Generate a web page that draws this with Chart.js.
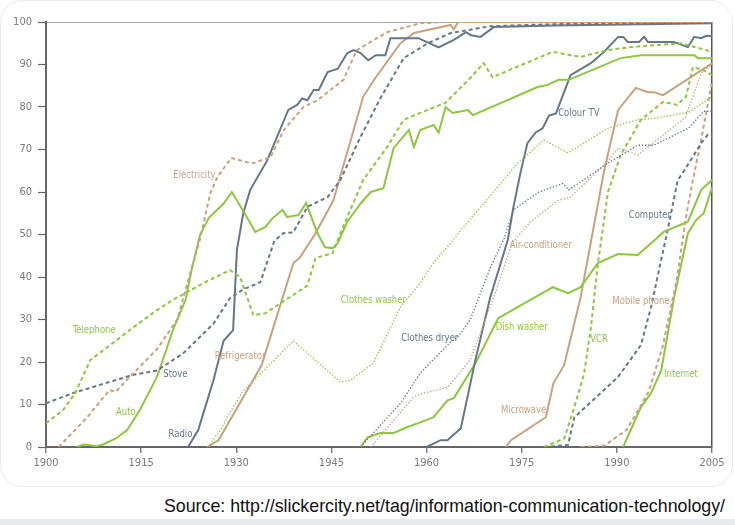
<!DOCTYPE html>
<html>
<head>
<meta charset="utf-8">
<title>Consumption spreads faster today</title>
<script src="https://cdn.jsdelivr.net/npm/chart.js@4.4.0/dist/chart.umd.min.js"></script>
<style>
  html, body { margin: 0; padding: 0; background: #fff; }
  body { width: 735px; height: 525px; position: relative; overflow: hidden; }
  #frame { position: absolute; left: 0; top: 0; width: 731px; height: 485px; border: 1px solid #ececec; border-radius: 22px; }
  #wrap { position: absolute; left: 0; top: 0; width: 735px; height: 490px; }
  #band { position: absolute; left: 0; top: 519px; width: 735px; height: 6px; background: #e8eaed; }
  #source { position: absolute; z-index: 2; right: 10px; top: 496px; font-family: 'Liberation Sans', Arial, sans-serif; font-size: 17.8px; line-height: 20px; color: #111; white-space: nowrap; }
</style>
</head>
<body>
<div id="frame"></div>
<div id="wrap"><canvas id="adoptionChart"></canvas></div>
<div id="band"></div>
<div id="source">Source: http://slickercity.net/tag/information-communication-technology/</div>
<script>
// [year, % of US households]
const electricity = [[1902,0],[1906.5,7],[1910,13.4],[1911,13],[1913.8,17.4],[1917.5,23],[1920.7,30],[1922,37],[1924.3,49],[1925.9,59.7],[1927,63.5],[1929.2,68],[1931.7,67],[1932.7,66.8],[1935.4,68.2],[1937.5,74.6],[1940.6,80],[1942.8,81.6],[1946.9,86.4],[1949,93.4],[1953.8,97.6],[1959,99.7],[1963,100],[2005,100]];
const telephone = [[1900,5.6],[1902.7,8.7],[1904.6,12.7],[1907,20.5],[1911.2,25.2],[1913.8,28.2],[1917.5,32.2],[1920,34.6],[1922.3,36.5],[1925.4,39],[1929,41.6],[1930.6,40],[1932.7,31],[1934.6,31.5],[1938.5,35.3],[1941.2,38],[1942.5,44.5],[1945.2,45.6],[1946.4,50.3],[1950,62.8],[1953.8,70.6],[1956.4,77],[1959,78.6],[1963,81],[1967,87],[1969,90.3],[1970.4,87],[1979.9,93],[1984.3,91.8],[1988.6,93.4],[1992.2,94.1],[2000.1,95],[2005,93]];
const stove = [[1900,10.3],[1904.3,12.7],[1910,15.3],[1913.8,17],[1917.5,18],[1921.6,22],[1926.4,29],[1929,35],[1931,37],[1933.8,38.8],[1936,48.5],[1937.4,50.3],[1939,50.5],[1941.2,56.5],[1944.4,58.8],[1946.4,62.8],[1949.6,73],[1952.7,82],[1956.4,91.5],[1960.2,95],[1963.8,97.4],[1970,99],[1980,99.5],[2005,100]];
const auto = [[1904.8,0],[1906,0.6],[1908,0.2],[1909,0.6],[1911,2],[1912.8,4],[1914.8,8.7],[1917.5,16.5],[1919,23],[1920,27.5],[1922,34.6],[1923,42],[1924.3,50],[1925.7,54],[1928,57.3],[1929.3,60],[1931.7,54],[1933,50.6],[1934.6,51.8],[1935.7,53.8],[1937.3,55.8],[1938,54.1],[1939.8,54.6],[1941,57.4],[1942.8,50.3],[1944,47],[1945.2,46.8],[1946,48],[1947.5,53],[1949.6,57.3],[1951.2,60],[1953.2,60.9],[1954.8,70.3],[1957.2,74.6],[1958,70.6],[1959,74.6],[1961.1,75.8],[1961.9,74],[1963,80],[1964.1,78.6],[1966.5,79.3],[1967.3,78.1],[1977.5,84.7],[1979.1,85.2],[1980.8,86.4],[1982.4,86.4],[1990.6,91.5],[1993.8,92.2],[2002.2,92.2],[2002.8,91.5],[2005,91.5]];
const radio = [[1922.4,0],[1924,4],[1926.4,15.7],[1928,25],[1929.5,27.5],[1930.1,46.4],[1931.1,55],[1932.2,60.5],[1934.9,67.5],[1938.2,79.3],[1939.6,80.5],[1940.4,82],[1941.2,81.6],[1942.2,84],[1943,84],[1944.4,88.2],[1946,89],[1947.5,92.7],[1948.5,93.4],[1949.6,92.7],[1950.8,91],[1952,92.2],[1953.5,92.2],[1954.3,96.2],[1958.7,96.2],[1961.9,94],[1964.3,95.8],[1966.2,97.6],[1967,96.9],[1968.5,96.5],[1970.6,98.8],[1980,99.2],[2005,99.7]];
const refrigerator = [[1925.4,0],[1927.2,1.6],[1934,19.3],[1939,43.3],[1940,44.5],[1942.5,50.3],[1945.3,58],[1950,82.4],[1952,87],[1955.9,95],[1958,97.4],[1963.8,99.3],[1964.3,98.3],[1965,100],[2005,100]];
const clothesWasher = [[1925.5,0],[1927.5,4],[1929.5,9.4],[1931,13],[1939,25],[1946.4,15.3],[1948,15.7],[1951.6,19.7],[1955.9,33],[1959,38.6],[1961.1,43.3],[1963.8,48],[1965.4,51],[1974.4,66.8],[1978.5,72.2],[1982.3,69.2],[1988.6,75],[1993.3,77],[1996.2,77.4],[2001.4,78.8],[2005,82.4]];
const clothesDryer = [[1949.6,0],[1955.9,10.3],[1959,17.4],[1963.8,24.7],[1965,26],[1966.9,30],[1970,42],[1972.2,49],[1973.7,55.8],[1977.7,60],[1981.5,62],[1982.4,60.5],[1985.4,63.5],[1988.6,66.8],[1993.3,71],[1995.8,71],[2001.3,75],[2003.7,79],[2005,79]];
const airConditioner = [[1951.2,0],[1958,11.8],[1959.6,12.7],[1963.3,14],[1966.9,20.5],[1970.6,35.3],[1973.5,48],[1976.4,53],[1980.7,58],[1982.7,58.8],[1988.3,66.8],[1990.2,70.3],[1993.3,68.7],[2000.8,77.5],[2003.3,88],[2005,90]];
const colourTV = [[1960,0],[1962.2,1.6],[1963.3,1.6],[1965.4,4.4],[1967.7,20.5],[1970,35],[1972.8,48.7],[1973.7,56.5],[1974.8,64.5],[1975.9,71.5],[1977.2,74],[1978.3,75],[1979.3,78],[1980.4,78.5],[1982.7,87.5],[1985.9,90.3],[1988,93],[1990.2,96.5],[1991,96.5],[1991.7,95.3],[1993.5,95.3],[1994.3,96.5],[1994.9,95.3],[1999,95.3],[2001.2,94.1],[2002.2,96.5],[2003.3,96.2],[2004,96.7],[2005,96.7]];
const dishWasher = [[1949.6,0],[1950.7,2.3],[1952.7,3.3],[1954.8,3.3],[1957,4.7],[1959,5.8],[1961.1,7],[1963.3,11],[1964.3,11.5],[1967.7,19.7],[1971.3,30.3],[1979.9,37.6],[1982.3,36.2],[1984.3,37.6],[1987,43.3],[1990.2,45.4],[1993.3,45.2],[1997.4,50.6],[2001.2,53],[2003.3,60.5],[2005,62.8]];
const microwave = [[1972.5,0],[1973.3,1.6],[1978.8,7],[1980,15],[1981.7,19.3],[1984.3,35.3],[1986,49],[1988,65],[1990.2,79.3],[1993,84.5],[1994.9,83.5],[1995.8,83.5],[1997.3,82.8],[2005,90.3]];
const vcr = [[1978.5,0],[1981.7,2],[1983,8],[1984.8,17],[1985.9,28],[1987,43],[1988.6,60],[1990.6,68.7],[1993.8,77],[1997.3,81.2],[1999.5,80.5],[2000.9,82.4],[2002,89.4],[2003.6,88.7],[2005,87.5]];
const computer = [[1978.5,0],[1982.3,0.5],[1983.3,7],[1990.2,16.5],[1993.8,24],[1995.4,33],[1998,51],[1999.6,62.8],[2000.6,65],[2003.3,71.5],[2004.3,73.4],[2005,73]];
const mobilePhone = [[1984.3,0],[1988,0.3],[1991.5,4],[1993.5,9],[1995,13],[1997.2,23.5],[1999.4,39],[2001,55],[2002,63],[2003,70],[2004,78],[2005,86]];
const internet = [[1991,0],[1993.8,9.4],[1995.4,12.7],[1997,18],[1999,35],[2001.2,50.3],[2002.5,53.4],[2003.7,55],[2005,61]];

// where each name is written on the chart, in [year, %]
const labelAnchors = {
  'Electricity': [1923.4, 64], 'Telephone': [1907.6, 27.5], 'Stove': [1920.4, 17.2],
  'Auto': [1912.6, 8.2], 'Radio': [1921.2, 3], 'Refrigerator': [1930.6, 21.4],
  'Clothes washer': [1951.6, 34.6], 'Clothes dryer': [1960.5, 25.6], 'Air-conditioner': [1978, 47.5],
  'Colour TV': [1984, 78.6], 'Dish washer': [1975, 28.2], 'Microwave': [1975.3, 8.7],
  'VCR': [1987.2, 25.4], 'Computer': [1995.2, 54.6], 'Mobile phone': [1993.8, 34.4], 'Internet': [2000.1, 17]
};

const xTicks = [1900, 1915, 1930, 1945, 1960, 1975, 1990, 2005];

const TAN = '#c9a17f', GREEN = '#8dc63f', GRAY = '#667788';
const FONT = "'DejaVu Sans Condensed', 'Liberation Sans Narrow', sans-serif";

function series(label, pts, color, kind) {
  const ds = {
    label: label,
    data: pts.map(p => ({ x: p[0], y: p[1] })),
    borderColor: color,
    borderWidth: 2,
    pointRadius: 0,
    tension: 0,
    fill: false
  };
  if (kind === 'dash') ds.borderDash = [4, 3];
  if (kind === 'dot') { ds.borderDash = [1.4, 1.8]; ds.borderWidth = 1.3; }
  return ds;
}

const datasets = [
  series('Electricity', electricity, TAN, 'dash'),
  series('Telephone', telephone, GREEN, 'dash'),
  series('Stove', stove, GRAY, 'dash'),
  series('Auto', auto, GREEN, 'solid'),
  series('Radio', radio, GRAY, 'solid'),
  series('Refrigerator', refrigerator, TAN, 'solid'),
  series('Clothes washer', clothesWasher, GREEN, 'dot'),
  series('Clothes dryer', clothesDryer, GRAY, 'dot'),
  series('Air-conditioner', airConditioner, TAN, 'dot'),
  series('Colour TV', colourTV, GRAY, 'solid'),
  series('Dish washer', dishWasher, GREEN, 'solid'),
  series('Microwave', microwave, TAN, 'solid'),
  series('VCR', vcr, GREEN, 'dash'),
  series('Computer', computer, GRAY, 'dash'),
  series('Mobile phone', mobilePhone, TAN, 'dash'),
  series('Internet', internet, GREEN, 'solid')
];

// names are written in a narrow face, squeezed a little like the original
const seriesNames = {
  id: 'seriesNames',
  afterDatasetsDraw(chart) {
    const ctx = chart.ctx;
    chart.data.datasets.forEach(ds => {
      const a = labelAnchors[ds.label];
      if (!a) return;
      const x = chart.scales.x.getPixelForValue(a[0]);
      const y = chart.scales.y.getPixelForValue(a[1]);
      ctx.save();
      ctx.translate(x, y);
      ctx.scale(0.9, 1);
      ctx.font = '10.5px ' + FONT;
      ctx.textAlign = 'center';
      ctx.textBaseline = 'middle';
      ctx.fillStyle = ds.borderColor;
      ctx.fillText(ds.label, 0, 0);
      ctx.restore();
    });
  }
};

new Chart(document.getElementById('adoptionChart'), {
  type: 'line',
  data: { datasets: datasets },
  options: {
    responsive: true,
    maintainAspectRatio: false,
    animation: false,
    layout: { padding: { left: 0, top: 22, right: 23, bottom: 18 } },
    plugins: { legend: { display: false }, tooltip: { enabled: false } },
    scales: {
      x: {
        type: 'linear', min: 1900, max: 2005,
        afterBuildTicks: s => { s.ticks = xTicks.map(v => ({ value: v })); },
        afterFit: s => { s.height = 25; },
        ticks: { callback: v => String(v), color: '#7a7a7a', font: { family: FONT, size: 11 }, padding: 4, maxRotation: 0 },
        grid: {
          color: c => (c.tick && c.tick.value === 2005) ? '#555' : 'rgba(0,0,0,0)',
          lineWidth: 1.5, tickColor: '#666', tickLength: 6, tickWidth: 1.2
        },
        border: { color: '#666', width: 2 }
      },
      y: {
        min: 0, max: 100,
        afterFit: s => { s.width = 46; },
        ticks: { stepSize: 10, color: '#7a7a7a', font: { family: FONT, size: 11 }, padding: 6 },
        grid: {
          color: c => (c.tick && c.tick.value === 100) ? '#aaa' : 'rgba(0,0,0,0)',
          lineWidth: 1, tickColor: '#666', tickLength: 8, tickWidth: 1.2
        },
        border: { color: '#666', width: 2 }
      }
    }
  },
  plugins: [seriesNames]
});
</script>
</body>
</html>
